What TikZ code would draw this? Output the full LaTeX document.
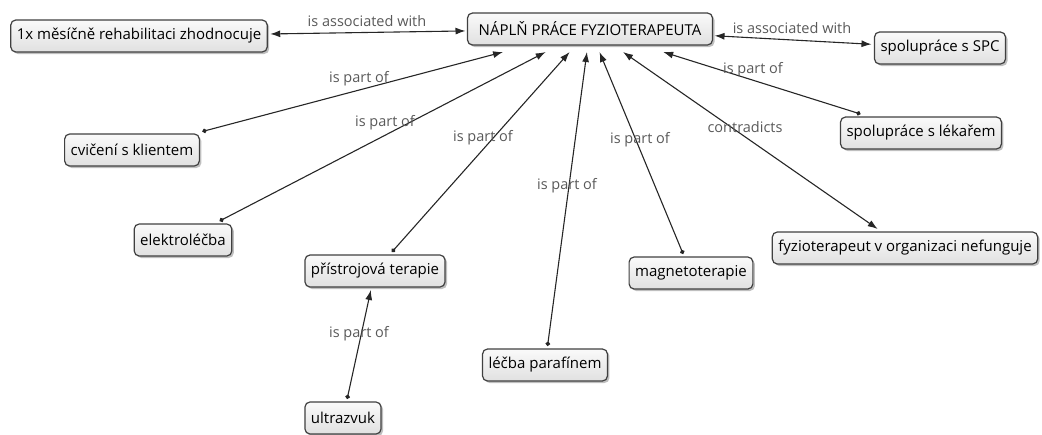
\documentclass[tikz,border=0pt]{standalone}
\usepackage{fontspec}
\setmainfont{Open Sans}
\usepackage{tikz}
\usetikzlibrary{arrows.meta, shadows}
\tikzset{
    concept/.style={draw=black!75, line width=1.2pt, rounded corners=5pt,
        top color=white!98!black, bottom color=white!88!black,
        minimum height=32pt, inner xsep=6pt, outer sep=3pt,
        font=\fontsize{15}{18}\selectfont,
        drop shadow={shadow xshift=2pt, shadow yshift=-2pt, opacity=0.5}}, % box of one concept
    link/.style={{Circle[length=4.5pt]}-{Latex[length=10pt, width=7pt]}, draw=black!85, line width=1.1pt}, % one-way link
    both link/.style={{Latex[length=10pt, width=7pt]}-{Latex[length=10pt, width=7pt]}, draw=black!85, line width=1.1pt}, % two-way link
    link label/.style={text=black!65, inner sep=0pt, font=\fontsize{14.5}{17}\selectfont} % words on a link
}

\begin{document}
\begin{tikzpicture}[x=1pt, y=-1pt]
        \useasboundingbox (0,0) rectangle (1042,434);

          \node[concept, minimum width=245pt, outer xsep=2pt, outer ysep=7pt] (hub) at (590,29) {NÁPLŇ PRÁCE FYZIOTERAPEUTA};
          \node[concept] (monthly) at (139,36) {1x měsíčně rehabilitaci zhodnocuje};
          \node[concept] (spc) at (940,48) {spolupráce s SPC};
          \node[concept] (doctor) at (921,133) {spolupráce s lékařem};
          \node[concept] (exercise) at (132,150) {cvičení s klientem};
          \node[concept] (electro) at (183,240) {elektroléčba};
          \node[concept] (devices) at (375,271) {přístrojová terapie};
          \node[concept] (magneto) at (691,273) {magnetoterapie};
          \node[concept] (broken) at (905,248) {fyzioterapeut v organizaci nefunguje};
          \node[concept] (paraffin) at (545,365) {léčba parafínem};
          \node[concept] (ultrasound) at (343,418) {ultrazvuk};

          \draw[both link] (monthly) -- (hub);
          \draw[both link] (hub) -- (spc);
          \draw[both link] (hub) -- (broken);
          \foreach \part in {doctor, exercise, electro, devices, magneto, paraffin} {
              \draw[link] (\part) -- (hub);
          }
          \draw[link] (ultrasound) -- (devices);

          \node[link label] (assocleft) at (367,21) {is associated with};
          \node[link label] (assocright) at (792,28) {is associated with};
          \node[link label] (contra) at (745,127) {contradicts};
          \foreach \lx / \ly [count=\i] in {
              753/70,
              359/79,
              385/123,
              483/138,
              640/140,
              567/186,
              359/334
          } {
              \node[link label] (part\i) at (\lx, \ly) {is part of};
          }

        \end{tikzpicture}
\end{document}
